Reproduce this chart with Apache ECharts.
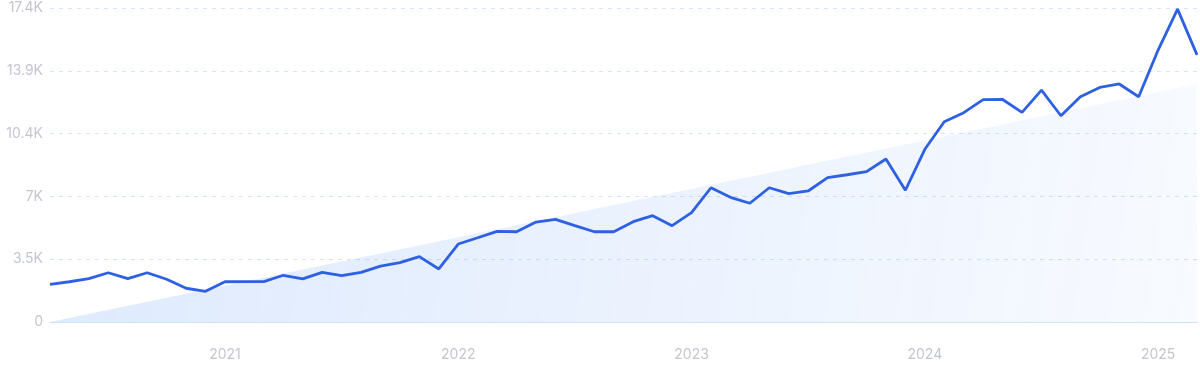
<!DOCTYPE html>
<html>
<head>
<meta charset="utf-8">
<script src="https://cdn.jsdelivr.net/npm/echarts@6/dist/echarts.min.js"></script>
<style>
html,body{margin:0;padding:0;background:#fff;}
#chart{width:1200px;height:371px;}
</style>
</head>
<body>
<div id="chart"></div>
<script>
const months = [
  "2020-04","2020-05","2020-06","2020-07","2020-08","2020-09","2020-10","2020-11","2020-12",
  "2021-01","2021-02","2021-03","2021-04","2021-05","2021-06","2021-07","2021-08","2021-09","2021-10","2021-11","2021-12",
  "2022-01","2022-02","2022-03","2022-04","2022-05","2022-06","2022-07","2022-08","2022-09","2022-10","2022-11","2022-12",
  "2023-01","2023-02","2023-03","2023-04","2023-05","2023-06","2023-07","2023-08","2023-09","2023-10","2023-11","2023-12",
  "2024-01","2024-02","2024-03","2024-04","2024-05","2024-06","2024-07","2024-08","2024-09","2024-10","2024-11","2024-12",
  "2025-01","2025-02","2025-03"
];
const values = [
  2090,2230,2400,2730,2400,2730,2370,1870,1700,
  2230,2240,2240,2590,2390,2750,2570,2750,3100,3290,3620,2940,
  4320,4670,5020,5000,5540,5690,5340,5000,5000,5560,5890,5340,
  6060,7440,6910,6580,7440,7110,7260,8000,8160,8330,9030,7300,
  9570,11100,11600,12320,12330,11620,12850,11430,12480,13000,13190,12480,
  15070,17340,14800
];
const trendEnds = [0, 13190];
const yTicks = [0, 3480, 6960, 10440, 13920, 17400];

const chart = echarts.init(document.getElementById('chart'), null, {renderer: 'canvas'});
const fmtY = v => v === 0 ? '0' : (Math.round(v / 100) / 10).toString() + 'K';
chart.setOption({
  animation: false,
  grid: {left: 50, right: 3, top: 8, bottom: 49},
  xAxis: {
    type: 'category',
    data: months,
    boundaryGap: false,
    axisLine: {show: true, lineStyle: {color: '#cfe4fb', width: 1}},
    axisTick: {show: false},
    axisLabel: {
      interval: (i, v) => v.endsWith('-01'),
      formatter: v => v.slice(0, 4),
      color: '#c4c6cf',
      fontFamily: 'Inter',
      fontSize: 14,
      margin: 26
    },
    splitLine: {show: false}
  },
  yAxis: {
    type: 'value',
    min: yTicks[0],
    max: yTicks[yTicks.length - 1],
    interval: yTicks[1] - yTicks[0],
    axisLine: {show: false},
    axisTick: {show: false},
    axisLabel: {
      formatter: fmtY,
      color: '#c4c6cf',
      fontFamily: 'Inter',
      fontSize: 14,
      margin: 7
    },
    splitLine: {show: true, lineStyle: {color: '#d6e5f7', type: [4, 5], width: 1}}
  },
  series: [
    {
      type: 'line',
      data: [[0, trendEnds[0]], [months.length - 1, trendEnds[1]]],
      symbol: 'none',
      silent: true,
      lineStyle: {width: 0, opacity: 0},
      areaStyle: {
        opacity: 1,
        color: new echarts.graphic.LinearGradient(0, 0.3, 1, 1, [
          {offset: 0, color: 'rgba(59,130,246,0.17)'},
          {offset: 1, color: 'rgba(59,130,246,0.04)'}
        ])
      },
      z: 1
    },
    {
      type: 'line',
      data: values,
      symbol: 'none',
      lineStyle: {color: '#2e60e3', width: 2.8},
      z: 3
    }
  ]
});
</script>
</body>
</html>
